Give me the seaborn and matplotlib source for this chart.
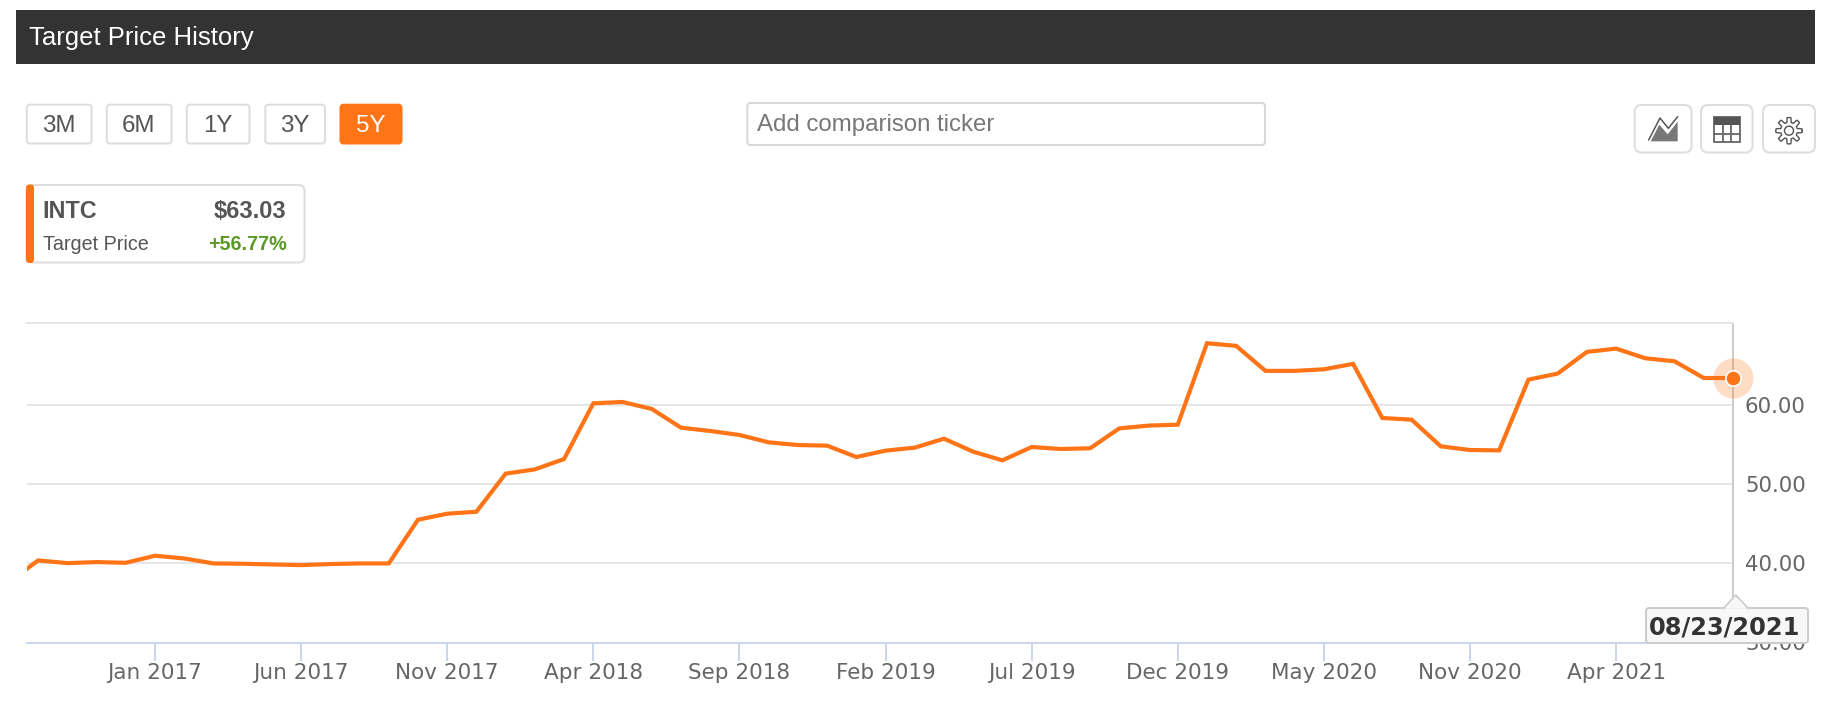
import numpy as np
import matplotlib
matplotlib.use("Agg")
import matplotlib.pyplot as plt
from matplotlib.patches import FancyBboxPatch, Rectangle, Polygon, Circle
import seaborn as sns

# ---- data ----
target_price = [37.6, 40.35, 40.01, 40.14, 40.05, 40.94, 40.6, 39.97, 39.93, 39.84, 39.76,
                39.89, 39.97, 39.97, 45.48, 46.24, 46.49, 51.29, 51.83, 53.14, 60.16,
                60.33, 59.45, 57.09, 56.67, 56.17, 55.24, 54.9, 54.82, 53.39, 54.19,
                54.57, 55.7, 54.06, 52.97, 54.65, 54.4, 54.49, 57.0, 57.35, 57.47,
                67.74, 67.4, 64.25, 64.25, 64.45, 65.13, 58.31, 58.1, 54.74, 54.27,
                54.23, 63.15, 63.91, 66.64, 67.06, 65.84, 65.46, 63.35, 63.35]
x_tick_index = [4, 9, 14, 19, 24, 29, 34, 39, 44, 49, 54]
x_tick_labels = ["Jan 2017", "Jun 2017", "Nov 2017", "Apr 2018", "Sep 2018", "Feb 2019",
                 "Jul 2019", "Dec 2019", "May 2020", "Nov 2020", "Apr 2021"]
y_ticks = [30, 40, 50, 60]
range_buttons = ["3M", "6M", "1Y", "3Y", "5Y"]

ORANGE = "#FF7417"
W, H = 1836, 716
sns.set_theme(style="white")
plt.rcParams["font.family"] = ["DejaVu Sans"]
UI = ["Liberation Sans", "DejaVu Sans"]

fig = plt.figure(figsize=(W / 100, H / 100), dpi=100, facecolor="white")

# ---- chart ----
L, R, T, B = 26.5, 1733, 322.5, 642.5
ax = fig.add_axes([L / W, 1 - B / H, (R - L) / W, (B - T) / H], facecolor="none")
idx = np.arange(len(target_price)) - 1
sns.lineplot(x=idx, y=target_price, ax=ax, color=ORANGE, linewidth=3.0, zorder=4,
             solid_joinstyle="miter", errorbar=None)
ax.set_xlim(-0.397, idx[-1])
ax.set_ylim(30, 70.35)
ax.set_xlabel("")
ax.set_ylabel("")
ax.yaxis.tick_right()
ax.set_yticks(y_ticks)
ax.set_yticklabels([f"{v:.2f}" for v in y_ticks], color="#666666", fontsize=15.3)
ax.set_xticks(x_tick_index)
ax.set_xticklabels(x_tick_labels, color="#666666", fontsize=15.5)
ax.tick_params(axis="y", length=0, pad=8.6)
ax.tick_params(axis="x", length=13, width=1.44, color="#ccd6eb", pad=1.5, bottom=True)
ax.grid(axis="y", color="#e6e6e6", linewidth=1.44, zorder=1)
ax.grid(axis="x", visible=False)
for s in ["left", "right"]:
    ax.spines[s].set_visible(False)
ax.spines["top"].set_color("#e6e6e6")
ax.spines["top"].set_linewidth(1.44)
ax.spines["bottom"].set_color("#ccd6eb")
ax.spines["bottom"].set_linewidth(1.44)
ax.axvline(idx[-1], color="#cccccc", linewidth=1.44, zorder=2, clip_on=False)
ax.plot([idx[-1]], [target_price[-1]], "o", ms=28.8, mfc=ORANGE, mec="none", alpha=0.25,
        clip_on=False, zorder=5)
ax.plot([idx[-1]], [target_price[-1]], "o", ms=11, mfc=ORANGE, mec="white", mew=1.2,
        clip_on=False, zorder=6)

# ---- page chrome in pixel coordinates ----
ui = fig.add_axes([0, 0, 1, 1], facecolor="none", zorder=10)
ui.set_xlim(0, W)
ui.set_ylim(H, 0)
ui.axis("off")


def box(x0, y0, x1, y1, fc="white", ec="#dddddd", lw=1.44, r=3, z=2):
    ui.add_patch(FancyBboxPatch((x0 + r, y0 + r), x1 - x0 - 2 * r, y1 - y0 - 2 * r,
                                boxstyle=f"round,pad={r},rounding_size={r}",
                                fc=fc, ec=ec, lw=lw, zorder=z))


# header
ui.add_patch(Rectangle((16, 10), 1799, 54, fc="#333333", ec="none"))
ui.text(29, 35.5, "Target Price History", color="white", fontsize=18.5, family=UI,
        va="center_baseline", ha="left")

# range buttons
btn_x = [(26.8, 91.5), (106.8, 171.5), (186.8, 249.5), (265.3, 325), (340.5, 401.5)]
for (x0, x1), lab in zip(btn_x, range_buttons):
    on = lab == "5Y"
    box(x0, 104.7, x1, 143.5, fc=ORANGE if on else "white", ec=ORANGE if on else "#dddddd")
    ui.text((x0 + x1) / 2 - 0.5, 123, lab, color="white" if on else "#555555", fontsize=17.4,
            family=UI, ha="center", va="center_baseline", zorder=3)

# comparison box
box(747.3, 103, 1265, 145, ec="#d9d9d9")
ui.text(757, 122.5, "Add comparison ticker", color="#777777", fontsize=17.3, family=UI,
        ha="left", va="center_baseline", zorder=3)

# tool buttons
for x0, x1 in [(1634.7, 1691.5), (1701, 1752.5), (1763, 1815)]:
    box(x0, 105, x1, 152.5, r=7)


def zp(pts):
    return [(1400 + a / 3, 80 + b / 3) for a, b in pts]


ui.add_patch(Polygon(zp([(752, 184), (778, 134), (803, 163), (833, 125), (833, 184)]),
                     fc="#777777", ec="none", zorder=3))
ui.plot(*zip(*zp([(746, 180), (780, 114), (805, 145), (833, 110)])), color="#555555",
        lw=1.1, zorder=3)
# table icon
ui.add_patch(Rectangle((1714, 117.3), 26, 24.7, fc="none", ec="#666666", lw=1.3, zorder=3))
ui.add_patch(Rectangle((1714, 117.3), 26, 8, fc="#555555", ec="none", zorder=3))
for gx in (1722.7, 1731.3):
    ui.plot([gx, gx], [125, 142], color="#666666", lw=1.3, zorder=3)
ui.plot([1714, 1740], [133.5, 133.5], color="#666666", lw=1.3, zorder=3)
# gear icon
gc = (1789, 130.7)
ang = np.linspace(0, 2 * np.pi, 241)
rad = 10.8 + 2.4 * np.clip(2.2 * np.cos(8 * ang), -1, 1)
ui.plot(gc[0] + rad * np.cos(ang), gc[1] + rad * np.sin(ang), color="#555555", lw=1.0, zorder=3)
ui.add_patch(Circle(gc, 4.5, fc="none", ec="#555555", lw=1.0, zorder=3))

# ticker card
box(26.5, 185, 304.5, 262.5, r=6)
ui.add_patch(FancyBboxPatch((29, 187.5), 2, 72.5, boxstyle="round,pad=3,rounding_size=3",
                            fc=ORANGE, ec="none", zorder=3))
ui.text(42.5, 208.5, "INTC", color="#555555", fontsize=16.8, weight="bold", family=UI,
        va="center_baseline", zorder=4)
ui.text(286.5, 208.5, "$63.03", color="#555555", fontsize=17, weight="bold", family=UI, ha="right",
        va="center_baseline", zorder=4)
ui.text(43, 242, "Target Price", color="#555555", fontsize=14.2, family=UI,
        va="center_baseline", zorder=4)
ui.text(286.5, 242.5, "+56.77%", color="#5a9a23", fontsize=14.2, weight="bold", family=UI, ha="right",
        va="center_baseline", zorder=4)

# date tooltip
box(1646, 608, 1808, 643, fc="#f7f7f7", ec="#cccccc", z=5)
ui.add_patch(Polygon([(1724, 608.8), (1735.7, 595), (1748, 608.8)], fc="#f7f7f7", ec="none", zorder=6))
ui.plot([1724, 1735.7, 1748], [608, 595, 608], color="#cccccc", lw=1.2, zorder=6)
ui.text(1725, 625, "08/23/2021", color="#333333", fontsize=17.4, weight="bold",
        ha="center", va="center_baseline", zorder=7)

fig.savefig("out.png", dpi=100)
